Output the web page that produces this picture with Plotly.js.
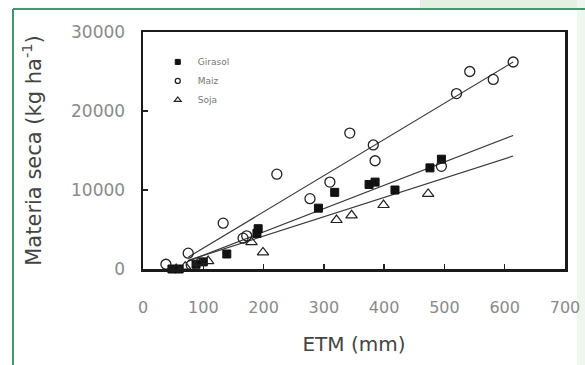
<!DOCTYPE html>
<html>
<head>
<meta charset="utf-8">
<script src="https://cdn.plot.ly/plotly-3.0.1.min.js"></script>
<style>
  html, body { margin: 0; padding: 0; background: #ffffff; }
  #chart { width: 585px; height: 365px; }
</style>
</head>
<body>
<div id="chart"></div>
<script>
// ---- Data ----
const seriesNames = ["Girasol", "Maiz", "Soja"];

const girasolX = [48, 60, 88, 100, 139, 189, 191, 291, 318, 375, 385, 418, 476, 495];
const girasolY = [0, 0, 600, 900, 1900, 4500, 5100, 7700, 9700, 10700, 11000, 10000, 12800, 13900];

const maizX = [30, 38, 75, 80, 133, 166, 172, 222, 277, 310, 343, 382, 385, 495, 520, 542, 581, 614];
const maizY = [-300, 600, 2000, 500, 5800, 3900, 4200, 12000, 8900, 11000, 17200, 15700, 13700, 13000, 22200, 25000, 24000, 26200];

const sojaX = [55, 70, 92, 108, 180, 199, 321, 346, 399, 473];
const sojaY = [0, 300, 800, 1000, 3400, 2100, 6200, 6800, 8100, 9500];

// fitted regression lines (end points)
const fitX = [75, 614];
const maizFitY = [1500, 26200];
const girasolFitY = [1000, 16900];
const sojaFitY = [1100, 14300];

const xTicks = [0, 100, 200, 300, 400, 500, 600, 700];
const yTicks = [0, 10000, 20000, 30000];

// ---- Traces ----
const lineStyle = { color: "#3a3a3a", width: 1.2 };
const sqMarker = { symbol: "square", color: "#111111", line: { color: "#111111", width: 1 } };
const ciMarker = { symbol: "circle-open", color: "#222222", line: { width: 1.3 } };
const trMarker = { symbol: "triangle-up-open", color: "#222222", line: { width: 1.2 } };

const traces = [
  { x: fitX, y: maizFitY, mode: "lines", line: lineStyle, showlegend: false, hoverinfo: "skip" },
  { x: fitX, y: girasolFitY, mode: "lines", line: lineStyle, showlegend: false, hoverinfo: "skip" },
  { x: fitX, y: sojaFitY, mode: "lines", line: lineStyle, showlegend: false, hoverinfo: "skip" },
  { x: girasolX, y: girasolY, name: seriesNames[0], mode: "markers", cliponaxis: false, showlegend: false,
    legendgroup: "g", marker: Object.assign({ size: 8 }, sqMarker) },
  { x: maizX, y: maizY, name: seriesNames[1], mode: "markers", cliponaxis: false, showlegend: false,
    legendgroup: "m", marker: Object.assign({ size: 10 }, ciMarker) },
  { x: sojaX, y: sojaY, name: seriesNames[2], mode: "markers", cliponaxis: false, showlegend: false,
    legendgroup: "s", marker: Object.assign({ size: 10 }, trMarker) },
  // legend entries with the small key symbols of the original
  { x: [null], y: [null], name: seriesNames[0], mode: "markers", legendgroup: "g", marker: Object.assign({ size: 5 }, sqMarker) },
  { x: [null], y: [null], name: seriesNames[1], mode: "markers", legendgroup: "m", marker: Object.assign({ size: 5 }, ciMarker) },
  { x: [null], y: [null], name: seriesNames[2], mode: "markers", legendgroup: "s", marker: Object.assign({ size: 6 }, trMarker) }
];

// plot area: x 143..565 px, y 32..269 px
const L = 143, R = 565, T = 32, B = 269, W = 585, H = 365;
const px = v => (v - L) / (R - L);
const py = v => (B - v) / (B - T);

const layout = {
  width: W, height: H,
  margin: { l: L, r: W - R, t: T, b: H - B },
  paper_bgcolor: "#ffffff",
  plot_bgcolor: "#ffffff",
  font: { family: "DejaVu Sans, sans-serif", color: "#777777" },
  showlegend: true,
  legend: {
    x: 0.035, y: 0.935, xanchor: "left", yanchor: "top",
    bgcolor: "rgba(0,0,0,0)", borderwidth: 0,
    font: { size: 9, color: "#777777" },
    tracegroupgap: 0, itemwidth: 30
  },
  xaxis: {
    range: [0, 700],
    tickvals: xTicks,
    ticktext: xTicks.map(String),
    ticks: "inside", ticklen: 5, tickwidth: 1.5, tickcolor: "#222222",
    showline: true, linecolor: "#1a1a1a", linewidth: 2.5, mirror: true,
    showgrid: false, zeroline: false,
    ticklabelstandoff: 22,
    tickfont: { size: 16, color: "#8a8a8a" },
    title: { text: "ETM (mm)", font: { size: 20, color: "#444444" }, standoff: 22 }
  },
  yaxis: {
    range: [0, 30000],
    tickvals: yTicks,
    ticktext: yTicks.map(String),
    ticks: "inside", ticklen: 5, tickwidth: 1.5, tickcolor: "#222222",
    showline: true, linecolor: "#1a1a1a", linewidth: 2.5, mirror: true,
    showgrid: false, zeroline: false,
    ticklabelstandoff: 12,
    tickfont: { size: 17, color: "#8a8a8a" },
    title: { text: "Materia seca (kg ha<sup>-1</sup>)", font: { size: 21, color: "#444444" }, standoff: 24 }
  },
  shapes: [
    // pale green band at top-right and right edge (page decoration)
    { type: "rect", xref: "paper", yref: "paper", x0: px(420), x1: px(585), y0: py(9), y1: py(0),
      fillcolor: "#e3f0e2", line: { width: 0 }, layer: "below" },
    { type: "rect", xref: "paper", yref: "paper", x0: px(577), x1: px(585), y0: py(365), y1: py(0),
      fillcolor: "#eef6ed", line: { width: 0 }, layer: "below" },
    // green frame lines
    { type: "line", xref: "paper", yref: "paper", x0: px(13), x1: px(13), y0: py(9), y1: py(365),
      line: { color: "#3c9a6c", width: 2 } },
    { type: "line", xref: "paper", yref: "paper", x0: px(13), x1: px(585), y0: py(9), y1: py(9),
      line: { color: "#3c9a6c", width: 2 } }
  ]
};

Plotly.newPlot("chart", traces, layout, { displayModeBar: false, staticPlot: true });
</script>
</body>
</html>
